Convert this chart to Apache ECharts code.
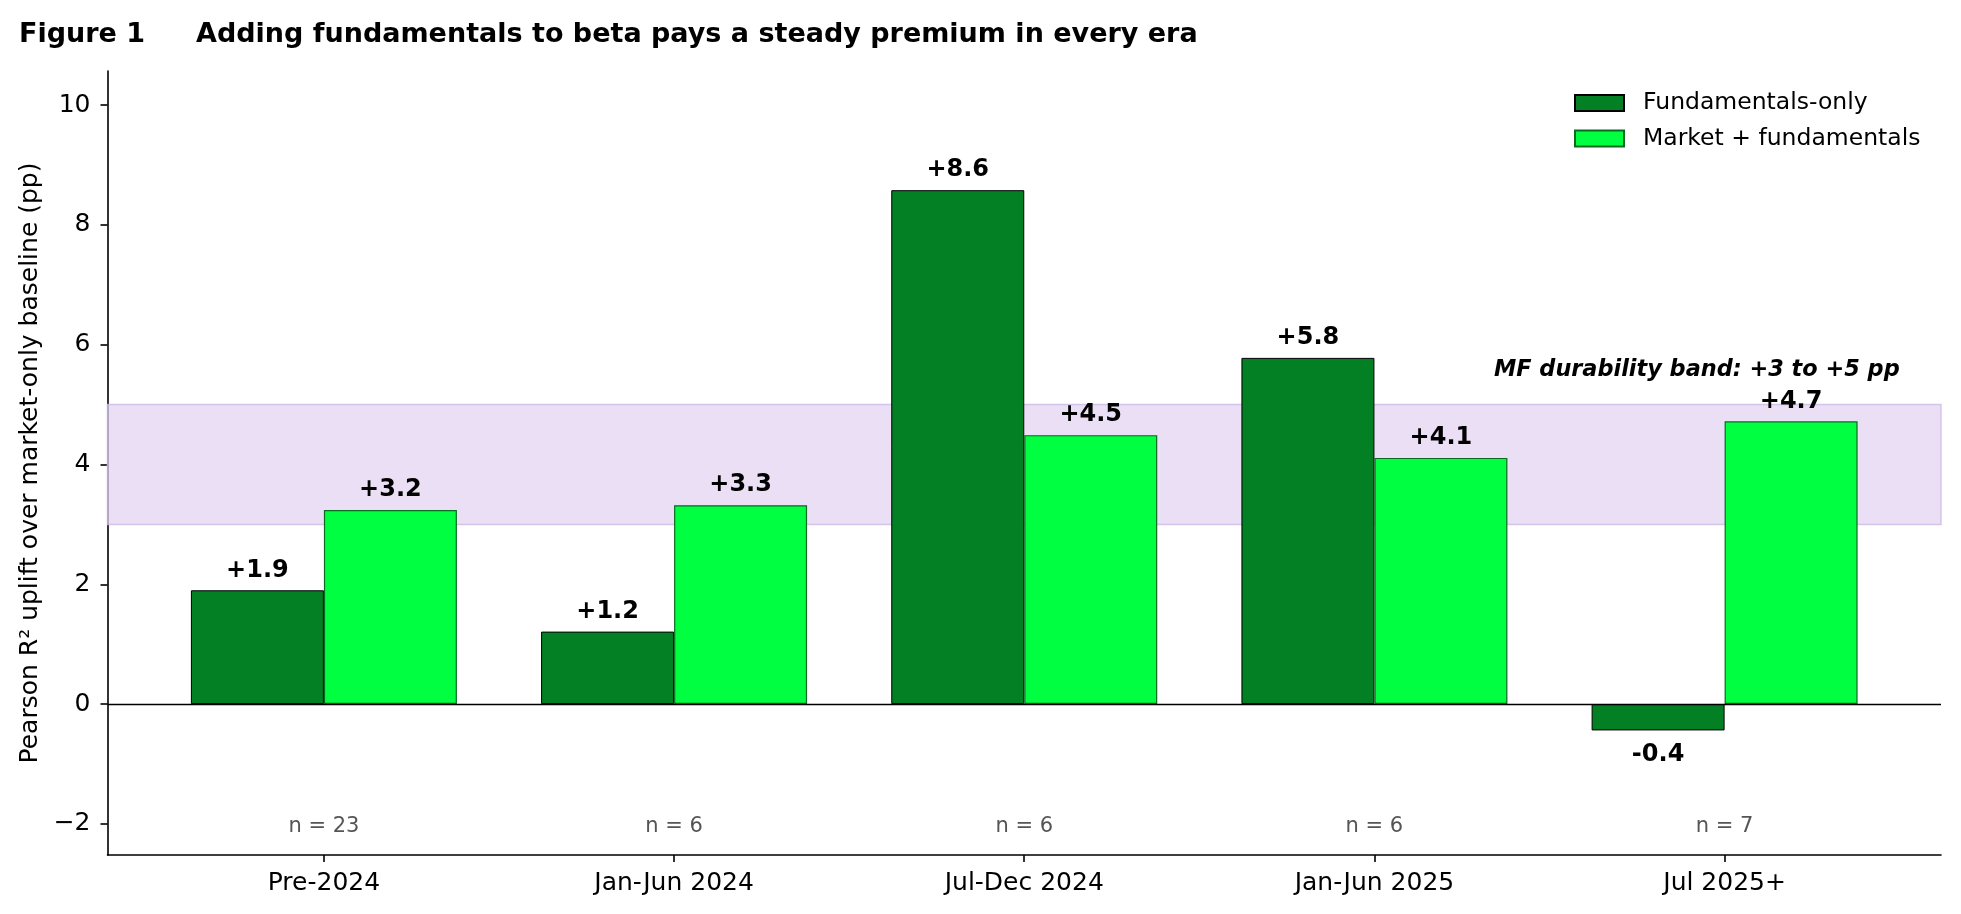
<!DOCTYPE html>
<html>
<head>
<meta charset="utf-8">
<script src="https://cdn.jsdelivr.net/npm/echarts@6/dist/echarts.min.js"></script>
<style>
html,body{margin:0;padding:0;background:#fff;}
#chart{width:1961px;height:914px;}
</style>
</head>
<body>
<div id="chart"></div>
<script>
const categories = ["Pre-2024", "Jan-Jun 2024", "Jul-Dec 2024", "Jan-Jun 2025", "Jul 2025+"];
const fundamentalsOnly = [1.90, 1.21, 8.58, 5.78, -0.44];
const marketPlusFund = [3.24, 3.32, 4.49, 4.11, 4.72];
const sampleSizes = [23, 6, 6, 6, 7];
const yTicks = [-2, 0, 2, 4, 6, 8, 10];
const bandLow = 3, bandHigh = 5;
const bandText = "MF durability band: +3 to +5 pp";

const FONT = "DejaVu Sans";
const fmt = v => (v >= 0 ? "+" : "") + v.toFixed(1);
const catIdx = categories.map((c, i) => i);

function barData(vals) {
  return vals.map((v, i) => ({
    value: [i, v],
    label: v < 0 ? { position: "bottom", distance: 12 } : { position: "top" }
  }));
}

const chart = echarts.init(document.getElementById("chart"));
chart.setOption({
  animation: false,
  backgroundColor: "#fff",
  title: [
    { text: "Figure 1", left: 14, top: 16, textStyle: { fontFamily: FONT, fontWeight: "bold", fontSize: 27, color: "#000" } },
    { text: "Adding fundamentals to beta pays a steady premium in every era", left: 191, top: 16, textStyle: { fontFamily: FONT, fontWeight: "bold", fontSize: 27, color: "#000" } }
  ],
  legend: {
    orient: "vertical",
    left: 1569,
    top: 86,
    itemWidth: 49,
    itemHeight: 16,
    itemGap: 11.5,
    icon: "rect",
    textStyle: { fontFamily: FONT, fontSize: 23.5, color: "#000", padding: [0, 0, 0, 14] },
    data: ["Fundamentals-only", "Market + fundamentals"]
  },
  grid: { left: 107.5, right: 20, top: 71, bottom: 59 },
  xAxis: {
    type: "value",
    min: -0.618,
    max: 4.618,
    splitLine: { show: false },
    axisLine: { show: true, onZero: false, lineStyle: { color: "#000", width: 1.6 } },
    axisTick: { show: true, customValues: catIdx, length: 7, lineStyle: { color: "#000", width: 1.6 } },
    axisLabel: {
      customValues: catIdx,
      formatter: v => categories[Math.round(v)],
      fontFamily: FONT, fontSize: 25, color: "#000", margin: 16
    }
  },
  yAxis: {
    type: "value",
    min: -2.52,
    max: 10.57,
    name: "Pearson R² uplift over market-only baseline (pp)",
    nameLocation: "middle",
    nameGap: 64,
    nameTextStyle: { fontFamily: FONT, fontSize: 25, color: "#000" },
    splitLine: { show: false },
    axisLine: { show: true, onZero: false, lineStyle: { color: "#000", width: 1.6 } },
    axisTick: { show: true, customValues: yTicks, length: 7, lineStyle: { color: "#000", width: 1.6 } },
    axisLabel: {
      customValues: yTicks,
      formatter: v => (v < 0 ? "\u2212" + Math.abs(v) : String(v)),
      fontFamily: FONT, fontSize: 25, color: "#000", margin: 17
    }
  },
  series: [
    {
      name: "Fundamentals-only",
      type: "bar",
      barWidth: 133,
      barGap: "0%",
      itemStyle: { color: "#037f24", borderColor: "#000", borderWidth: 1 },
      label: {
        show: true, distance: 8,
        formatter: p => fmt(p.value[1]),
        fontFamily: FONT, fontWeight: "bold", fontSize: 24, color: "#000"
      },
      data: barData(fundamentalsOnly),
      markArea: {
        silent: true,
        itemStyle: { color: "rgba(225,210,240,0.7)", borderColor: "rgba(205,185,230,0.8)", borderWidth: 1.5 },
        data: [[{ yAxis: bandLow, x: 107.5 }, { yAxis: bandHigh, x: 1941 }]]
      }
    },
    {
      name: "Market + fundamentals",
      type: "bar",
      barWidth: 133,
      barGap: "0%",
      itemStyle: { color: "#00ff41", borderColor: "#0a6a20", borderWidth: 1.2 },
      label: {
        show: true, distance: 8,
        formatter: p => fmt(p.value[1]),
        fontFamily: FONT, fontWeight: "bold", fontSize: 24, color: "#000"
      },
      data: barData(marketPlusFund),
      markLine: {
        silent: true,
        symbol: "none",
        label: { show: false },
        lineStyle: { color: "#000", width: 1.4, type: "solid" },
        data: [{ yAxis: 0 }]
      }
    },
    {
      type: "scatter",
      symbolSize: 0,
      silent: true,
      itemStyle: { opacity: 1 },
      label: {
        show: true, position: "inside",
        formatter: p => "n = " + sampleSizes[p.dataIndex],
        fontFamily: FONT, fontSize: 21, color: "#555"
      },
      data: sampleSizes.map((n, i) => [i, -2.04])
    },
    {
      type: "scatter",
      symbolSize: 0,
      silent: true,
      itemStyle: { opacity: 1 },
      label: {
        show: true, position: "left", distance: 0,
        formatter: bandText,
        fontFamily: FONT, fontSize: 22.4, fontWeight: "bold", fontStyle: "italic", color: "#000"
      },
      data: [[4.5, 5.57]]
    }
  ]
});
</script>
</body>
</html>
